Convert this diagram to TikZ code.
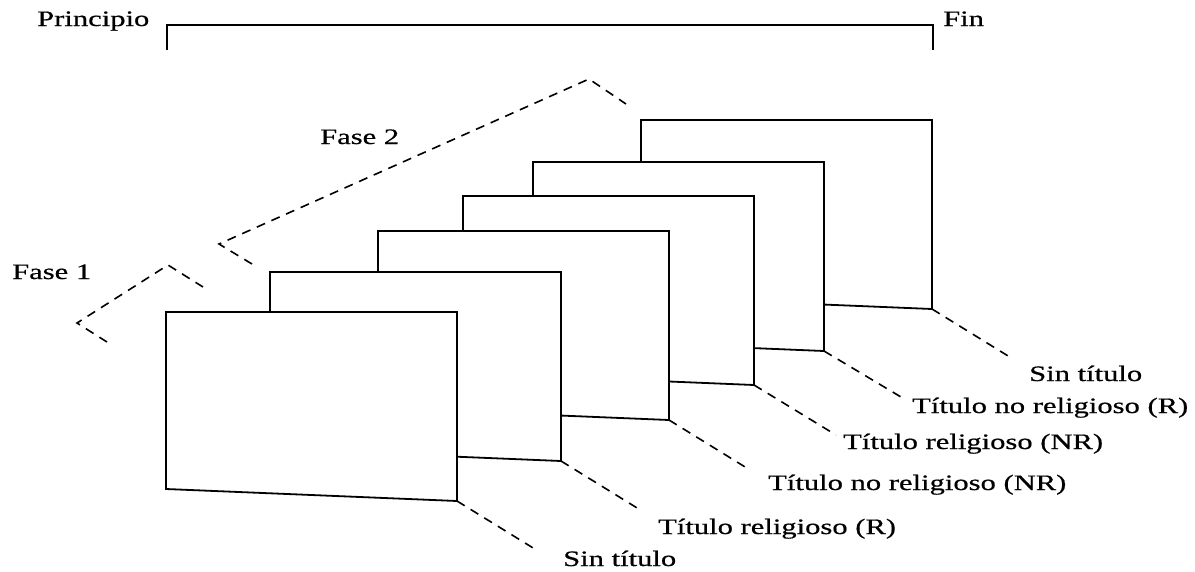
\documentclass[tikz,border=0pt]{standalone}
\usepackage{fontspec}
\setmainfont{Liberation Serif}[FakeStretch=1.39,FakeBold=0.6]
\begin{document}
\begin{tikzpicture}[x=1pt,y=-1pt,
  panel/.style={draw=black, fill=white, line width=1.8pt, line join=miter},
  lead/.style={draw=black, line width=1.6pt, dash pattern=on 9pt off 7pt},
  lab/.style={font=\fontsize{22}{26}\selectfont, inner sep=0pt, anchor=base west},
  brk/.style={draw=black, line width=1.8pt}]
\useasboundingbox (0,0) rectangle (1195,571);
% bracket
\coordinate (b1) at (167,50);
\coordinate (bt1) at (167,25);
\coordinate (bt2) at (933,25);
\coordinate (b2) at (933,50);
\draw[brk] (b1) -- (bt1) -- (bt2) -- (b2);
\node[lab] (prin) at (37,26) {Principio};
\node[lab] (fin) at (943,26) {Fin};
% phases
\coordinate (f1a) at (107,342);
\coordinate (f1b) at (77,323);
\coordinate (f1c) at (168,265);
\coordinate (f1d) at (203,287);
\draw[lead] (f1a) -- (f1b) -- (f1c) -- (f1d);
\coordinate (f2a) at (252,264);
\coordinate (f2b) at (219,244);
\coordinate (f2c) at (589,79);
\coordinate (f2d) at (626,104);
\draw[lead] (f2a) -- (f2b) -- (f2c) -- (f2d);
\node[lab] (fase1) at (12,279) {Fase 1};
\node[lab] (fase2) at (320,144) {Fase 2};
% panels, back to front
\foreach \n/\L/\T in {6/641/120, 5/533/162, 4/463/196, 3/378/231, 2/270/272, 1/166/312} {
  \draw[panel] (\L,\T) -- (\L+291,\T) -- (\L+291,\T+189) -- (\L,\T+177) -- cycle;
  \coordinate (c\n) at (\L+291,\T+189);
}
% leader ends
\coordinate (e1) at (538,551);
\coordinate (e2) at (642,511);
\coordinate (e3) at (750,470);
\coordinate (e4) at (836,435);
\coordinate (e5) at (906,400);
\coordinate (e6) at (1013,359);
\foreach \n in {1,...,6} {\draw[lead] (c\n) -- (e\n);}
% labels
\node[lab] (t1) at (563,566) {Sin título};
\node[lab] (t2) at (658,534) {Título religioso (R)};
\node[lab] (t3) at (768,490) {Título no religioso (NR)};
\node[lab] (t4) at (843,449) {Título religioso (NR)};
\node[lab] (t5) at (912,413) {Título no religioso (R)};
\node[lab] (t6) at (1029,381) {Sin título};
\end{tikzpicture}
\end{document}
